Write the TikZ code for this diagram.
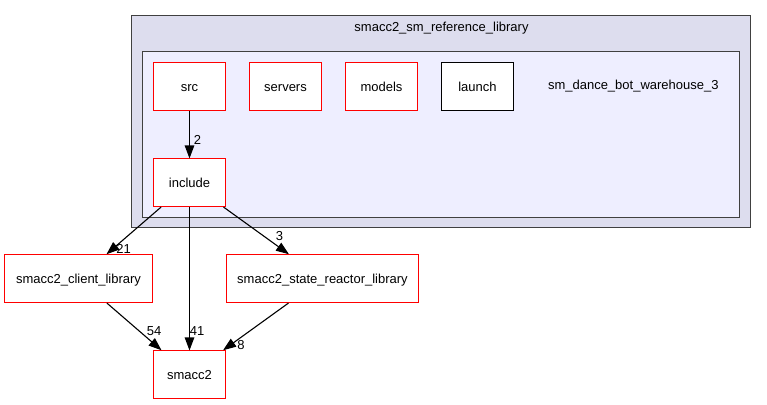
\documentclass[tikz,border=0pt]{standalone}
\usepackage{fontspec}
\setmainfont{Liberation Sans}
\usetikzlibrary{arrows.meta}
\definecolor{outerfill}{HTML}{DDDDEE}
\definecolor{innerfill}{HTML}{EEEEFF}
\definecolor{framecol}{HTML}{404040}
\begin{document}
\begin{tikzpicture}[x=1pt,y=-1pt,
  font=\fontsize{13}{15}\selectfont,
  clusterbox/.style={draw=framecol, line width=1.3pt, inner sep=0pt, outer sep=0pt},
  dirbox/.style={draw=red, fill=white, line width=1.1pt, minimum width=72pt, minimum height=48pt, inner sep=2pt, text depth=0pt, text height=9.5pt},
  plainbox/.style={dirbox, draw=black},
  edge/.style={draw=black, line width=1.1pt, -{Triangle[length=13pt,width=9.5pt]}, shorten >=-0.5pt},
  elabel/.style={inner sep=0pt, font=\fontsize{13}{15}\selectfont}]
\useasboundingbox (0,0) rectangle (767,404);
\node[clusterbox, fill=outerfill, minimum width=619pt, minimum height=212pt] (outer) at (441,121.5) {};
\node[clusterbox, fill=innerfill, minimum width=597pt, minimum height=166pt] (inner) at (441,134.5) {};
\node[inner sep=0pt] (title) at (441.5,28) {smacc2\_sm\_reference\_library};
\node[inner sep=0pt] (ilabel) at (633.3,86.5) {sm\_dance\_bot\_warehouse\_3};

\node[dirbox] (src) at (189.5,86.5) {src};
\node[dirbox] (servers) at (285.5,86.5) {servers};
\node[dirbox] (models) at (381.5,86.5) {models};
\node[plainbox] (launch) at (477.5,86.5) {launch};
\node[dirbox] (inc) at (189.5,182.5) {include};
\node[dirbox, minimum width=148pt] (client) at (78.5,278.5) {smacc2\_client\_library};
\node[dirbox, minimum width=192pt] (state) at (322.5,278.5) {smacc2\_state\_reactor\_library};
\node[dirbox] (smacc) at (189.5,374.5) {smacc2};

\draw[edge] (src) -- (inc);
\draw[edge] (inc) -- (client);
\draw[edge] (inc) -- (smacc);
\draw[edge] (inc) -- (state);
\draw[edge] (client) -- (smacc);
\draw[edge] (state) -- (smacc);

\node[elabel] (l2) at (197.5,140) {2};
\node[elabel] (l21) at (123.5,249) {21};
\node[elabel] (l3) at (279.5,236) {3};
\node[elabel] (l41) at (197,331.5) {41};
\node[elabel] (l54) at (154,331.5) {54};
\node[elabel] (l8) at (241,345.5) {8};
\end{tikzpicture}
\end{document}
